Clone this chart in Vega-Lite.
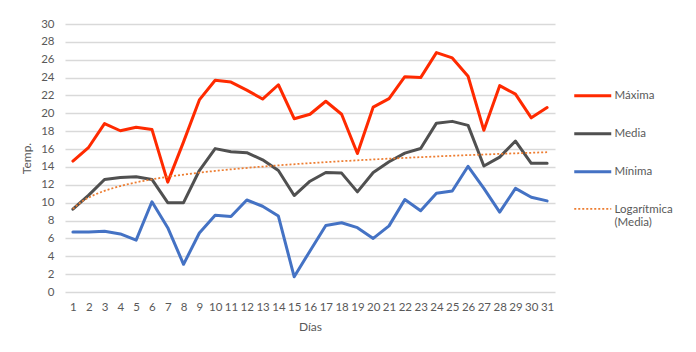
{
  "$schema": "https://vega.github.io/schema/vega-lite/v6.json",
  "width": 490,
  "height": 268,
  "autosize": {"type": "none"},
  "padding": {"left": 65, "top": 24, "right": 141, "bottom": 60},
  "background": "white",
  "config": {
    "view": {"stroke": null},
    "font": "Lato",
    "axis": {"labelColor": "#595959", "titleColor": "#595959", "titleFontWeight": "normal", "labelFontSize": 11.5, "titleFontSize": 12}
  },
  "data": {"values": [
    {"dia": 1, "serie": "Máxima", "temp": 14.65}, {"dia": 2, "serie": "Máxima", "temp": 16.2}, {"dia": 3, "serie": "Máxima", "temp": 18.85},
    {"dia": 4, "serie": "Máxima", "temp": 18.05}, {"dia": 5, "serie": "Máxima", "temp": 18.45}, {"dia": 6, "serie": "Máxima", "temp": 18.2},
    {"dia": 7, "serie": "Máxima", "temp": 12.3}, {"dia": 8, "serie": "Máxima", "temp": 16.8}, {"dia": 9, "serie": "Máxima", "temp": 21.5},
    {"dia": 10, "serie": "Máxima", "temp": 23.7}, {"dia": 11, "serie": "Máxima", "temp": 23.5}, {"dia": 12, "serie": "Máxima", "temp": 22.6},
    {"dia": 13, "serie": "Máxima", "temp": 21.6}, {"dia": 14, "serie": "Máxima", "temp": 23.2}, {"dia": 15, "serie": "Máxima", "temp": 19.4},
    {"dia": 16, "serie": "Máxima", "temp": 19.9}, {"dia": 17, "serie": "Máxima", "temp": 21.35}, {"dia": 18, "serie": "Máxima", "temp": 19.9},
    {"dia": 19, "serie": "Máxima", "temp": 15.5}, {"dia": 20, "serie": "Máxima", "temp": 20.7}, {"dia": 21, "serie": "Máxima", "temp": 21.65},
    {"dia": 22, "serie": "Máxima", "temp": 24.1}, {"dia": 23, "serie": "Máxima", "temp": 24.0}, {"dia": 24, "serie": "Máxima", "temp": 26.8},
    {"dia": 25, "serie": "Máxima", "temp": 26.2}, {"dia": 26, "serie": "Máxima", "temp": 24.15}, {"dia": 27, "serie": "Máxima", "temp": 18.1},
    {"dia": 28, "serie": "Máxima", "temp": 23.1}, {"dia": 29, "serie": "Máxima", "temp": 22.15}, {"dia": 30, "serie": "Máxima", "temp": 19.5},
    {"dia": 31, "serie": "Máxima", "temp": 20.65},
    {"dia": 1, "serie": "Media", "temp": 9.27}, {"dia": 2, "serie": "Media", "temp": 10.84}, {"dia": 3, "serie": "Media", "temp": 12.6},
    {"dia": 4, "serie": "Media", "temp": 12.82}, {"dia": 5, "serie": "Media", "temp": 12.9}, {"dia": 6, "serie": "Media", "temp": 12.6},
    {"dia": 7, "serie": "Media", "temp": 10.0}, {"dia": 8, "serie": "Media", "temp": 10.0}, {"dia": 9, "serie": "Media", "temp": 13.6},
    {"dia": 10, "serie": "Media", "temp": 16.05}, {"dia": 11, "serie": "Media", "temp": 15.7}, {"dia": 12, "serie": "Media", "temp": 15.6},
    {"dia": 13, "serie": "Media", "temp": 14.8}, {"dia": 14, "serie": "Media", "temp": 13.6}, {"dia": 15, "serie": "Media", "temp": 10.8},
    {"dia": 16, "serie": "Media", "temp": 12.4}, {"dia": 17, "serie": "Media", "temp": 13.38}, {"dia": 18, "serie": "Media", "temp": 13.31},
    {"dia": 19, "serie": "Media", "temp": 11.21}, {"dia": 20, "serie": "Media", "temp": 13.38}, {"dia": 21, "serie": "Media", "temp": 14.58},
    {"dia": 22, "serie": "Media", "temp": 15.55}, {"dia": 23, "serie": "Media", "temp": 16.06}, {"dia": 24, "serie": "Media", "temp": 18.9},
    {"dia": 25, "serie": "Media", "temp": 19.1}, {"dia": 26, "serie": "Media", "temp": 18.65}, {"dia": 27, "serie": "Media", "temp": 14.1},
    {"dia": 28, "serie": "Media", "temp": 15.1}, {"dia": 29, "serie": "Media", "temp": 16.9}, {"dia": 30, "serie": "Media", "temp": 14.4},
    {"dia": 31, "serie": "Media", "temp": 14.4},
    {"dia": 1, "serie": "Mínima", "temp": 6.73}, {"dia": 2, "serie": "Mínima", "temp": 6.73}, {"dia": 3, "serie": "Mínima", "temp": 6.8},
    {"dia": 4, "serie": "Mínima", "temp": 6.5}, {"dia": 5, "serie": "Mínima", "temp": 5.8}, {"dia": 6, "serie": "Mínima", "temp": 10.1},
    {"dia": 7, "serie": "Mínima", "temp": 7.2}, {"dia": 8, "serie": "Mínima", "temp": 3.1}, {"dia": 9, "serie": "Mínima", "temp": 6.6},
    {"dia": 10, "serie": "Mínima", "temp": 8.6}, {"dia": 11, "serie": "Mínima", "temp": 8.45}, {"dia": 12, "serie": "Mínima", "temp": 10.3},
    {"dia": 13, "serie": "Mínima", "temp": 9.6}, {"dia": 14, "serie": "Mínima", "temp": 8.5}, {"dia": 15, "serie": "Mínima", "temp": 1.7},
    {"dia": 16, "serie": "Mínima", "temp": 4.6}, {"dia": 17, "serie": "Mínima", "temp": 7.45}, {"dia": 18, "serie": "Mínima", "temp": 7.75},
    {"dia": 19, "serie": "Mínima", "temp": 7.2}, {"dia": 20, "serie": "Mínima", "temp": 6.0}, {"dia": 21, "serie": "Mínima", "temp": 7.4},
    {"dia": 22, "serie": "Mínima", "temp": 10.35}, {"dia": 23, "serie": "Mínima", "temp": 9.1}, {"dia": 24, "serie": "Mínima", "temp": 11.05},
    {"dia": 25, "serie": "Mínima", "temp": 11.3}, {"dia": 26, "serie": "Mínima", "temp": 14.07}, {"dia": 27, "serie": "Mínima", "temp": 11.6},
    {"dia": 28, "serie": "Mínima", "temp": 8.95}, {"dia": 29, "serie": "Mínima", "temp": 11.6}, {"dia": 30, "serie": "Mínima", "temp": 10.6},
    {"dia": 31, "serie": "Mínima", "temp": 10.2}
  ]},
  "encoding": {
    "x": {
      "field": "dia", "type": "quantitative",
      "scale": {"domain": [0.5, 31.5], "nice": false, "zero": false},
      "axis": {
        "values": [1,2,3,4,5,6,7,8,9,10,11,12,13,14,15,16,17,18,19,20,21,22,23,24,25,26,27,28,29,30,31],
        "format": "d", "title": "Días", "grid": false, "domain": false, "ticks": false,
        "labelPadding": 9, "titlePadding": 9, "labelFlush": false
      }
    },
    "y": {
      "field": "temp", "type": "quantitative",
      "scale": {"domain": [0, 30], "nice": false},
      "axis": {
        "values": [0,2,4,6,8,10,12,14,16,18,20,22,24,26,28,30],
        "title": "Temp.", "domain": false, "ticks": false,
        "gridColor": "#D9D9D9", "gridWidth": 1.3,
        "labelPadding": 11, "titlePadding": 7
      }
    }
  },
  "layer": [
    {
      "mark": {"type": "line", "strokeWidth": 3, "strokeJoin": "round", "strokeCap": "round"},
      "encoding": {
        "color": {
          "field": "serie", "type": "nominal",
          "scale": {
            "domain": ["Máxima", "Media", "Mínima", "Logarítmica (Media)"],
            "range": ["#FF2A00", "#505050", "#4472C4", "#ED7D31"]
          },
          "legend": {
            "title": null, "orient": "none", "legendX": 522, "legendY": 66,
            "symbolType": "stroke", "symbolSize": 1369, "symbolStrokeWidth": 3,
            "labelFontSize": 11.5, "labelColor": "#595959", "labelOffset": 16,
            "rowPadding": 25, "padding": 0,
            "labelExpr": "datum.value === 'Logarítmica (Media)' ? ['Logarítmica', '(Media)'] : datum.value",
            "encode": {
              "symbols": {"update": {
                "strokeDash": {"signal": "datum.value === 'Logarítmica (Media)' ? [2, 2] : [1, 0]"},
                "strokeWidth": {"signal": "datum.value === 'Logarítmica (Media)' ? 1.75 : 3"}
              }},
              "labels": {"update": {
                "dy": {"signal": "datum.value === 'Logarítmica (Media)' ? 1 : 0"}
              }}
            }
          }
        }
      }
    },
    {
      "transform": [
        {"filter": "datum.serie === 'Media'"},
        {"regression": "temp", "on": "dia", "method": "log"}
      ],
      "mark": {"type": "line", "strokeWidth": 1.75, "strokeDash": [2, 2]},
      "encoding": {"color": {"datum": "Logarítmica (Media)"}}
    }
  ]
}
